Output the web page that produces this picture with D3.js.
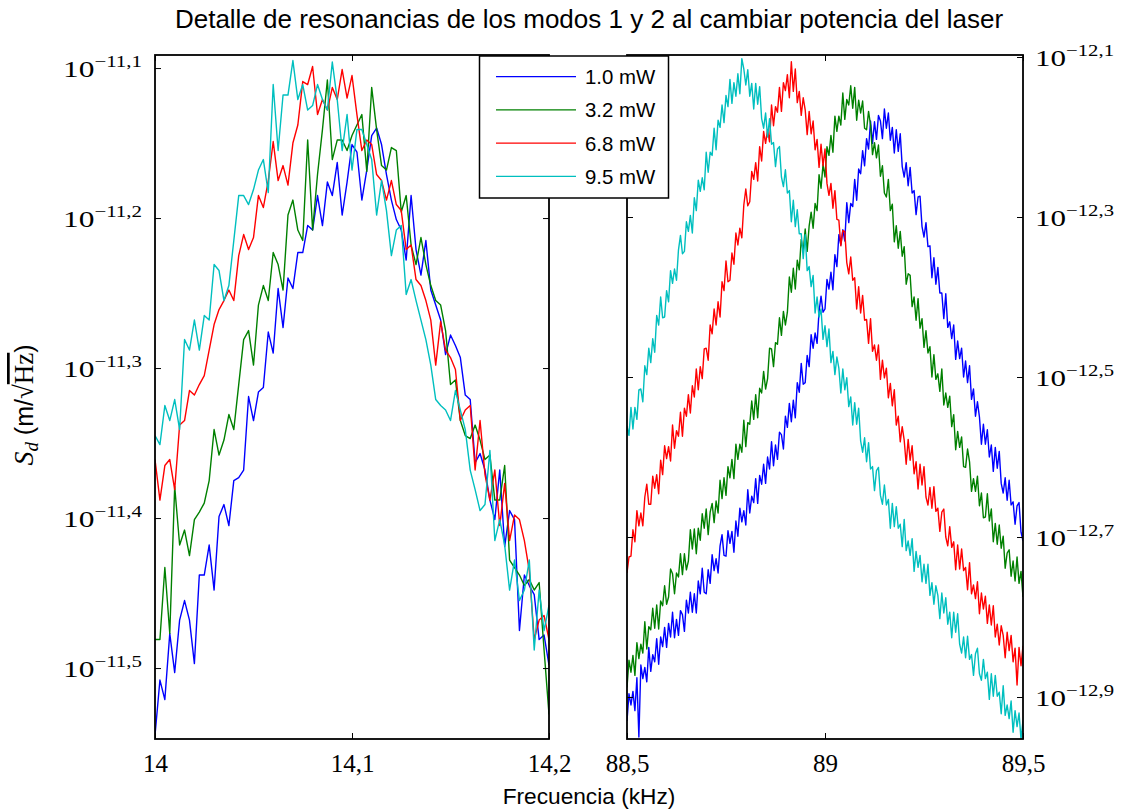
<!DOCTYPE html>
<html>
<head>
<meta charset="utf-8">
<script src="https://cdn.jsdelivr.net/npm/d3@7"></script>
<style>
  body { margin: 0; background: #fff; }
  svg { display: block; }
</style>
</head>
<body>
<svg id="chart" width="1122" height="812"></svg>
<script>
// Frequency bins (kHz) of the two resonance windows
const freqMode1 = [
  14.0000,14.0025,14.0050,14.0075,14.0100,14.0125,14.0150,14.0175,14.0200,14.0225,
  14.0250,14.0275,14.0300,14.0325,14.0350,14.0375,14.0400,14.0425,14.0450,14.0475,
  14.0500,14.0525,14.0550,14.0575,14.0600,14.0625,14.0650,14.0675,14.0700,14.0725,
  14.0750,14.0775,14.0800,14.0825,14.0850,14.0875,14.0900,14.0925,14.0950,14.0975,
  14.1000,14.1025,14.1050,14.1075,14.1100,14.1125,14.1150,14.1175,14.1200,14.1225,
  14.1250,14.1275,14.1300,14.1325,14.1350,14.1375,14.1400,14.1425,14.1450,14.1475,
  14.1500,14.1525,14.1550,14.1575,14.1600,14.1625,14.1650,14.1675,14.1700,14.1725,
  14.1750,14.1775,14.1800,14.1825,14.1850,14.1875,14.1900,14.1925,14.1950,14.1975,
  14.2000
];
const freqMode2 = [
  88.500,88.505,88.510,88.515,88.520,88.525,88.530,88.535,88.540,88.545,
  88.550,88.555,88.560,88.565,88.570,88.575,88.580,88.585,88.590,88.595,
  88.600,88.605,88.610,88.615,88.620,88.625,88.630,88.635,88.640,88.645,
  88.650,88.655,88.660,88.665,88.670,88.675,88.680,88.685,88.690,88.695,
  88.700,88.705,88.710,88.715,88.720,88.725,88.730,88.735,88.740,88.745,
  88.750,88.755,88.760,88.765,88.770,88.775,88.780,88.785,88.790,88.795,
  88.800,88.805,88.810,88.815,88.820,88.825,88.830,88.835,88.840,88.845,
  88.850,88.855,88.860,88.865,88.870,88.875,88.880,88.885,88.890,88.895,
  88.900,88.905,88.910,88.915,88.920,88.925,88.930,88.935,88.940,88.945,
  88.950,88.955,88.960,88.965,88.970,88.975,88.980,88.985,88.990,88.995,
  89.000,89.005,89.010,89.015,89.020,89.025,89.030,89.035,89.040,89.045,
  89.050,89.055,89.060,89.065,89.070,89.075,89.080,89.085,89.090,89.095,
  89.100,89.105,89.110,89.115,89.120,89.125,89.130,89.135,89.140,89.145,
  89.150,89.155,89.160,89.165,89.170,89.175,89.180,89.185,89.190,89.195,
  89.200,89.205,89.210,89.215,89.220,89.225,89.230,89.235,89.240,89.245,
  89.250,89.255,89.260,89.265,89.270,89.275,89.280,89.285,89.290,89.295,
  89.300,89.305,89.310,89.315,89.320,89.325,89.330,89.335,89.340,89.345,
  89.350,89.355,89.360,89.365,89.370,89.375,89.380,89.385,89.390,89.395,
  89.400,89.405,89.410,89.415,89.420,89.425,89.430,89.435,89.440,89.445,
  89.450,89.455,89.460,89.465,89.470,89.475,89.480,89.485,89.490,89.495,
  89.500
];

// log10 of S_d (m/sqrt(Hz)), mode 1, one array per laser power
const mode1_P10 = [
  -11.545,-11.508,-11.521,-11.477,-11.503,-11.468,-11.455,-11.468,-11.497,-11.438,
  -11.438,-11.418,-11.448,-11.399,-11.391,-11.405,-11.375,-11.373,-11.368,-11.319,
  -11.335,-11.316,-11.313,-11.276,-11.290,-11.247,-11.273,-11.240,-11.247,-11.223,
  -11.223,-11.205,-11.208,-11.185,-11.205,-11.176,-11.185,-11.163,-11.198,-11.176,
  -11.151,-11.156,-11.188,-11.168,-11.145,-11.140,-11.151,-11.171,-11.188,-11.201,
  -11.208,-11.228,-11.185,-11.221,-11.238,-11.215,-11.248,-11.258,-11.268,-11.291,
  -11.278,-11.285,-11.293,-11.318,-11.321,-11.363,-11.357,-11.368,-11.388,-11.401,
  -11.368,-11.419,-11.395,-11.401,-11.475,-11.438,-11.445,-11.451,-11.481,-11.478,
  -11.498
];
const mode1_P32 = [
  -11.481,-11.481,-11.433,-11.477,-11.379,-11.418,-11.408,-11.425,-11.401,-11.396,
  -11.390,-11.375,-11.341,-11.358,-11.348,-11.331,-11.341,-11.311,-11.281,-11.275,
  -11.298,-11.258,-11.245,-11.255,-11.223,-11.231,-11.248,-11.198,-11.188,-11.208,
  -11.215,-11.148,-11.208,-11.171,-11.141,-11.108,-11.161,-11.148,-11.148,-11.155,
  -11.145,-11.138,-11.131,-11.169,-11.113,-11.141,-11.165,-11.168,-11.153,-11.155,
  -11.196,-11.185,-11.218,-11.231,-11.213,-11.231,-11.245,-11.255,-11.258,-11.275,
  -11.311,-11.308,-11.335,-11.345,-11.347,-11.338,-11.348,-11.361,-11.358,-11.388,
  -11.388,-11.365,-11.428,-11.433,-11.438,-11.445,-11.441,-11.448,-11.443,-11.488,
  -11.531
];
const mode1_P68 = [
  -11.361,-11.388,-11.365,-11.361,-11.381,-11.338,-11.335,-11.315,-11.318,-11.311,
  -11.305,-11.288,-11.271,-11.261,-11.255,-11.248,-11.255,-11.225,-11.211,-11.221,
  -11.213,-11.185,-11.193,-11.175,-11.149,-11.175,-11.165,-11.178,-11.150,-11.138,
  -11.109,-11.111,-11.099,-11.131,-11.121,-11.128,-11.113,-11.121,-11.101,-11.120,
  -11.105,-11.131,-11.155,-11.148,-11.151,-11.171,-11.175,-11.188,-11.175,-11.191,
  -11.195,-11.221,-11.218,-11.241,-11.245,-11.255,-11.268,-11.298,-11.269,-11.288,
  -11.293,-11.301,-11.335,-11.328,-11.325,-11.368,-11.335,-11.371,-11.388,-11.368,
  -11.405,-11.377,-11.415,-11.398,-11.401,-11.415,-11.435,-11.481,-11.468,-11.465,
  -11.481
];
const mode1_P95 = [
  -11.345,-11.351,-11.325,-11.335,-11.321,-11.341,-11.281,-11.288,-11.268,-11.288,
  -11.265,-11.268,-11.231,-11.235,-11.255,-11.245,-11.215,-11.185,-11.185,-11.191,
  -11.181,-11.168,-11.161,-11.183,-11.111,-11.155,-11.118,-11.118,-11.095,-11.121,
  -11.111,-11.128,-11.125,-11.111,-11.121,-11.128,-11.096,-11.121,-11.155,-11.131,
  -11.168,-11.141,-11.141,-11.151,-11.161,-11.198,-11.175,-11.195,-11.225,-11.208,
  -11.205,-11.251,-11.241,-11.255,-11.268,-11.281,-11.298,-11.321,-11.325,-11.328,
  -11.335,-11.315,-11.328,-11.341,-11.368,-11.381,-11.395,-11.391,-11.355,-11.415,
  -11.401,-11.418,-11.448,-11.428,-11.455,-11.448,-11.428,-11.488,-11.448,-11.475,
  -11.458
];

// log10 of S_d (m/sqrt(Hz)), mode 2
const mode2_P10 = [
  -12.930,-12.896,-12.910,-12.893,-12.917,-12.876,-12.950,-12.860,-12.877,-12.863,
  -12.881,-12.838,-12.868,-12.847,-12.856,-12.827,-12.859,-12.825,-12.837,-12.813,
  -12.838,-12.808,-12.825,-12.794,-12.826,-12.803,-12.823,-12.792,-12.797,-12.818,
  -12.779,-12.795,-12.769,-12.794,-12.771,-12.795,-12.755,-12.771,-12.739,-12.769,
  -12.771,-12.741,-12.758,-12.722,-12.742,-12.727,-12.745,-12.711,-12.697,-12.723,
  -12.724,-12.692,-12.708,-12.693,-12.719,-12.680,-12.699,-12.664,-12.681,-12.667,
  -12.685,-12.641,-12.670,-12.649,-12.657,-12.627,-12.658,-12.623,-12.634,-12.609,
  -12.633,-12.600,-12.615,-12.581,-12.611,-12.585,-12.603,-12.569,-12.572,-12.590,
  -12.549,-12.563,-12.533,-12.556,-12.529,-12.551,-12.507,-12.519,-12.483,-12.509,
  -12.507,-12.473,-12.487,-12.447,-12.464,-12.445,-12.458,-12.418,-12.399,-12.419,
  -12.415,-12.378,-12.390,-12.369,-12.391,-12.347,-12.362,-12.322,-12.335,-12.316,
  -12.330,-12.282,-12.307,-12.283,-12.287,-12.253,-12.279,-12.240,-12.246,-12.217,
  -12.236,-12.202,-12.215,-12.180,-12.208,-12.181,-12.203,-12.173,-12.180,-12.202,
  -12.165,-12.189,-12.170,-12.204,-12.188,-12.220,-12.191,-12.218,-12.196,-12.237,
  -12.250,-12.232,-12.261,-12.238,-12.270,-12.267,-12.297,-12.275,-12.274,-12.312,
  -12.325,-12.307,-12.337,-12.336,-12.376,-12.351,-12.384,-12.363,-12.395,-12.395,
  -12.427,-12.396,-12.438,-12.431,-12.452,-12.435,-12.478,-12.455,-12.477,-12.464,
  -12.500,-12.480,-12.507,-12.486,-12.528,-12.515,-12.549,-12.531,-12.550,-12.584,
  -12.559,-12.584,-12.566,-12.600,-12.585,-12.618,-12.588,-12.614,-12.593,-12.633,
  -12.645,-12.626,-12.654,-12.629,-12.660,-12.656,-12.684,-12.661,-12.657,-12.694,
  -12.705
];
const mode2_P32 = [
  -12.888,-12.854,-12.869,-12.848,-12.873,-12.832,-12.852,-12.834,-12.845,-12.806,
  -12.840,-12.812,-12.816,-12.789,-12.814,-12.785,-12.815,-12.780,-12.786,-12.761,
  -12.784,-12.775,-12.740,-12.746,-12.771,-12.745,-12.750,-12.721,-12.747,-12.721,
  -12.741,-12.730,-12.691,-12.715,-12.690,-12.721,-12.689,-12.704,-12.671,-12.689,
  -12.665,-12.697,-12.669,-12.658,-12.682,-12.655,-12.670,-12.629,-12.652,-12.626,
  -12.648,-12.612,-12.626,-12.603,-12.627,-12.584,-12.603,-12.584,-12.594,-12.554,
  -12.587,-12.557,-12.559,-12.530,-12.553,-12.522,-12.551,-12.514,-12.520,-12.493,
  -12.515,-12.502,-12.464,-12.465,-12.487,-12.457,-12.459,-12.426,-12.448,-12.418,
  -12.435,-12.419,-12.375,-12.394,-12.364,-12.390,-12.354,-12.366,-12.328,-12.343,
  -12.315,-12.343,-12.311,-12.294,-12.314,-12.283,-12.292,-12.247,-12.264,-12.234,
  -12.250,-12.212,-12.223,-12.198,-12.219,-12.174,-12.193,-12.174,-12.185,-12.145,
  -12.178,-12.153,-12.160,-12.136,-12.164,-12.138,-12.179,-12.154,-12.170,-12.155,
  -12.189,-12.191,-12.168,-12.185,-12.222,-12.207,-12.226,-12.210,-12.249,-12.236,
  -12.270,-12.275,-12.253,-12.292,-12.284,-12.331,-12.311,-12.339,-12.318,-12.349,
  -12.337,-12.384,-12.371,-12.373,-12.412,-12.400,-12.429,-12.402,-12.439,-12.427,
  -12.463,-12.442,-12.470,-12.462,-12.500,-12.472,-12.503,-12.496,-12.518,-12.490,
  -12.535,-12.520,-12.538,-12.524,-12.562,-12.547,-12.591,-12.568,-12.588,-12.575,
  -12.612,-12.613,-12.590,-12.606,-12.643,-12.627,-12.643,-12.624,-12.661,-12.645,
  -12.676,-12.675,-12.646,-12.680,-12.665,-12.706,-12.683,-12.709,-12.685,-12.714,
  -12.699,-12.739,-12.720,-12.716,-12.749,-12.730,-12.755,-12.725,-12.758,-12.743,
  -12.775
];
const mode2_P68 = [
  -12.745,-12.725,-12.724,-12.691,-12.706,-12.667,-12.686,-12.670,-12.686,-12.650,
  -12.634,-12.659,-12.659,-12.624,-12.639,-12.622,-12.646,-12.604,-12.622,-12.586,
  -12.602,-12.587,-12.605,-12.560,-12.589,-12.567,-12.574,-12.544,-12.574,-12.539,
  -12.549,-12.522,-12.545,-12.511,-12.525,-12.490,-12.516,-12.487,-12.502,-12.465,
  -12.464,-12.479,-12.435,-12.446,-12.415,-12.435,-12.406,-12.425,-12.381,-12.392,
  -12.355,-12.381,-12.379,-12.345,-12.359,-12.320,-12.335,-12.314,-12.326,-12.285,
  -12.265,-12.286,-12.281,-12.243,-12.253,-12.232,-12.255,-12.212,-12.230,-12.193,
  -12.208,-12.191,-12.206,-12.160,-12.186,-12.162,-12.169,-12.138,-12.168,-12.132,
  -12.142,-12.122,-12.151,-12.106,-12.143,-12.115,-12.157,-12.143,-12.173,-12.151,
  -12.166,-12.197,-12.168,-12.196,-12.180,-12.216,-12.203,-12.238,-12.209,-12.236,
  -12.215,-12.258,-12.273,-12.258,-12.289,-12.267,-12.303,-12.304,-12.336,-12.317,
  -12.318,-12.357,-12.371,-12.350,-12.379,-12.376,-12.415,-12.387,-12.420,-12.398,
  -12.429,-12.428,-12.458,-12.427,-12.468,-12.460,-12.479,-12.460,-12.503,-12.479,
  -12.501,-12.489,-12.526,-12.508,-12.536,-12.516,-12.560,-12.549,-12.581,-12.562,
  -12.579,-12.609,-12.578,-12.604,-12.586,-12.621,-12.606,-12.640,-12.609,-12.635,
  -12.612,-12.650,-12.660,-12.638,-12.664,-12.637,-12.668,-12.664,-12.693,-12.669,
  -12.665,-12.700,-12.711,-12.687,-12.713,-12.706,-12.741,-12.710,-12.740,-12.715,
  -12.742,-12.738,-12.766,-12.732,-12.771,-12.760,-12.777,-12.756,-12.796,-12.770,
  -12.790,-12.774,-12.808,-12.785,-12.810,-12.786,-12.825,-12.809,-12.835,-12.811,
  -12.823,-12.851,-12.819,-12.842,-12.823,-12.856,-12.839,-12.885,-12.838,-12.861,
  -12.836
];
const mode2_P95 = [
  -12.561,-12.573,-12.538,-12.565,-12.538,-12.553,-12.516,-12.515,-12.531,-12.486,
  -12.497,-12.464,-12.482,-12.452,-12.469,-12.423,-12.435,-12.400,-12.426,-12.425,
  -12.392,-12.406,-12.367,-12.383,-12.365,-12.379,-12.341,-12.323,-12.346,-12.343,
  -12.306,-12.318,-12.298,-12.320,-12.276,-12.292,-12.254,-12.268,-12.251,-12.266,
  -12.219,-12.244,-12.219,-12.223,-12.189,-12.216,-12.179,-12.188,-12.160,-12.182,
  -12.148,-12.162,-12.128,-12.158,-12.132,-12.149,-12.121,-12.146,-12.102,-12.115,
  -12.135,-12.116,-12.149,-12.133,-12.165,-12.133,-12.159,-12.137,-12.177,-12.189,
  -12.170,-12.200,-12.177,-12.209,-12.207,-12.237,-12.215,-12.212,-12.250,-12.262,
  -12.241,-12.270,-12.267,-12.306,-12.279,-12.312,-12.291,-12.321,-12.321,-12.352,
  -12.322,-12.367,-12.362,-12.387,-12.373,-12.420,-12.400,-12.425,-12.415,-12.453,
  -12.436,-12.462,-12.440,-12.482,-12.468,-12.497,-12.475,-12.489,-12.520,-12.490,
  -12.516,-12.501,-12.537,-12.525,-12.560,-12.532,-12.559,-12.539,-12.580,-12.594,
  -12.576,-12.606,-12.582,-12.615,-12.612,-12.642,-12.617,-12.613,-12.648,-12.659,
  -12.635,-12.660,-12.653,-12.689,-12.658,-12.687,-12.662,-12.689,-12.684,-12.712,
  -12.678,-12.717,-12.705,-12.723,-12.702,-12.743,-12.718,-12.738,-12.723,-12.756,
  -12.734,-12.758,-12.734,-12.773,-12.757,-12.784,-12.761,-12.773,-12.802,-12.770,
  -12.795,-12.776,-12.809,-12.794,-12.826,-12.794,-12.819,-12.796,-12.834,-12.845,
  -12.825,-12.851,-12.824,-12.853,-12.847,-12.873,-12.846,-12.839,-12.871,-12.879,
  -12.853,-12.877,-12.869,-12.903,-12.871,-12.899,-12.873,-12.899,-12.894,-12.921,
  -12.886,-12.923,-12.910,-12.927,-12.905,-12.944,-12.917,-12.937,-12.920,-12.953,
  -12.929
];

const seriesLabels = ["1.0 mW", "3.2 mW", "6.8 mW", "9.5 mW"];
const seriesColors = ["#0000ff", "#008000", "#ff0000", "#00bfbf"];

const mode1XTicks = [14, 14.1, 14.2];
const mode2XTicks = [88.5, 89, 89.5];
const mode1YExponents = [-11.1, -11.2, -11.3, -11.4, -11.5];
const mode2YExponents = [-12.1, -12.3, -12.5, -12.7, -12.9];

// ---------------------------------------------------------------
const svg = d3.select("#chart");
svg.append("rect").attr("width", 1122).attr("height", 812).attr("fill", "#fff");
const defs = svg.append("defs");

const serif = "'Liberation Serif', 'DejaVu Serif', serif";
const sans = "'Liberation Sans', Arial, sans-serif";

const panels = [
  {
    id: "mode1", left: 155, right: 549, top: 55, bottom: 739,
    freq: freqMode1, series: [mode1_P10, mode1_P32, mode1_P68, mode1_P95],
    xDomain: [14, 14.2], yExpDomain: [-11.5473, -11.0913],
    xTicks: mode1XTicks, yExps: mode1YExponents, labelSide: "left"
  },
  {
    id: "mode2", left: 627, right: 1023, top: 55, bottom: 739,
    freq: freqMode2, series: [mode2_P10, mode2_P32, mode2_P68, mode2_P95],
    xDomain: [88.5, 89.5], yExpDomain: [-12.9525, -12.0975],
    xTicks: mode2XTicks, yExps: mode2YExponents, labelSide: "right"
  }
];

const commaFmt = v => String(+v.toFixed(2)).replace(".", ",");

panels.forEach(p => {
  const x = d3.scaleLinear().domain(p.xDomain).range([p.left, p.right]);
  const y = d3.scaleLog()
    .domain(p.yExpDomain.map(e => Math.pow(10, e)))
    .range([p.bottom, p.top]);

  defs.append("clipPath").attr("id", "clip-" + p.id)
    .append("rect")
    .attr("x", p.left).attr("y", p.top)
    .attr("width", p.right - p.left).attr("height", p.bottom - p.top);

  const line = d3.line()
    .x((d, i) => x(p.freq[i]))
    .y(d => y(Math.pow(10, d)));

  const plot = svg.append("g").attr("clip-path", `url(#clip-${p.id})`);
  p.series.forEach((s, si) => {
    plot.append("path")
      .attr("d", line(s))
      .attr("fill", "none")
      .attr("stroke", seriesColors[si])
      .attr("stroke-width", 1.4)
      .attr("stroke-linejoin", "round");
  });

  const yTickVals = p.yExps.map(e => Math.pow(10, e));

  // inward ticks on all four sides
  const axB = svg.append("g").attr("transform", `translate(0,${p.bottom})`)
    .call(d3.axisBottom(x).tickValues(p.xTicks).tickSizeInner(-6).tickSizeOuter(0)
      .tickPadding(15).tickFormat(commaFmt));
  const axT = svg.append("g").attr("transform", `translate(0,${p.top})`)
    .call(d3.axisTop(x).tickValues(p.xTicks).tickSizeInner(-6).tickSizeOuter(0).tickFormat(""));
  const axL = svg.append("g").attr("transform", `translate(${p.left},0)`)
    .call(d3.axisLeft(y).tickValues(yTickVals).tickSizeInner(-6).tickSizeOuter(0).tickFormat(""));
  const axR = svg.append("g").attr("transform", `translate(${p.right},0)`)
    .call(d3.axisRight(y).tickValues(yTickVals).tickSizeInner(-6).tickSizeOuter(0).tickFormat(""));

  [axB, axT, axL, axR].forEach(a => {
    a.select(".domain").remove();
    a.selectAll(".tick line").attr("stroke", "#000").attr("stroke-width", 1);
  });
  axB.selectAll(".tick text")
    .attr("font-family", serif).attr("font-size", 25).attr("fill", "#000");

  // 10^{exponent} labels
  const labelAxis = p.labelSide === "left" ? axL : axR;
  labelAxis.selectAll(".tick").each(function (d, i) {
    const e = p.yExps[i];
    const t = d3.select(this).append("text")
      .attr("x", p.labelSide === "left" ? -13 : 12)
      .attr("y", 8.5)
      .attr("text-anchor", p.labelSide === "left" ? "end" : "start")
      .attr("font-family", serif)
      .attr("fill", "#000")
      .attr("textLength", 79)
      .attr("lengthAdjust", "spacingAndGlyphs");
    t.append("tspan").attr("font-size", 24).text("10");
    t.append("tspan").attr("font-size", 16).attr("dy", -10)
      .text("\u2212" + Math.abs(e).toFixed(1).replace(".", ","));
  });

  // frame
  svg.append("rect")
    .attr("x", p.left).attr("y", p.top)
    .attr("width", p.right - p.left).attr("height", p.bottom - p.top)
    .attr("fill", "none").attr("stroke", "#000").attr("stroke-width", 1.8);
});

// legend
const legend = svg.append("g");
legend.append("rect")
  .attr("x", 479.5).attr("y", 56).attr("width", 189).attr("height", 142)
  .attr("fill", "#fff").attr("stroke", "#000").attr("stroke-width", 1.5);
seriesLabels.forEach((lab, i) => {
  const yy = 76.7 + i * 33.2;
  legend.append("line")
    .attr("x1", 496).attr("x2", 576).attr("y1", yy).attr("y2", yy)
    .attr("stroke", seriesColors[i]).attr("stroke-width", 1.3);
  legend.append("text")
    .attr("x", 585).attr("y", yy + 7.5)
    .attr("font-family", sans).attr("font-size", 20.4).attr("fill", "#000")
    .text(lab);
});

// title and axis labels
svg.append("text")
  .attr("x", 589).attr("y", 28)
  .attr("text-anchor", "middle")
  .attr("font-family", sans).attr("font-size", 26).attr("fill", "#000")
  .text("Detalle de resonancias de los modos 1 y 2 al cambiar potencia del laser");

svg.append("text")
  .attr("x", 589).attr("y", 804)
  .attr("text-anchor", "middle")
  .attr("font-family", sans).attr("font-size", 22.7).attr("fill", "#000")
  .text("Frecuencia (kHz)");

const yLab = svg.append("text")
  .attr("transform", "translate(33,405) rotate(-90)")
  .attr("text-anchor", "middle")
  .attr("fill", "#000");
yLab.append("tspan").attr("font-family", serif).attr("font-style", "italic")
  .attr("font-size", 28).text("S");
yLab.append("tspan").attr("font-family", serif).attr("font-style", "italic")
  .attr("font-size", 19).attr("dy", 5).text("d");
yLab.append("tspan").attr("font-family", sans).attr("font-size", 25)
  .attr("dy", -5).text(" (m/");
yLab.append("tspan").attr("font-family", serif).attr("font-size", 27).text("\u221A");
yLab.append("tspan").attr("font-family", serif).attr("font-size", 27)
  .style("text-decoration", "overline").text("Hz");
yLab.append("tspan").attr("font-family", sans).attr("font-size", 25).text(")");
</script>
</body>
</html>
